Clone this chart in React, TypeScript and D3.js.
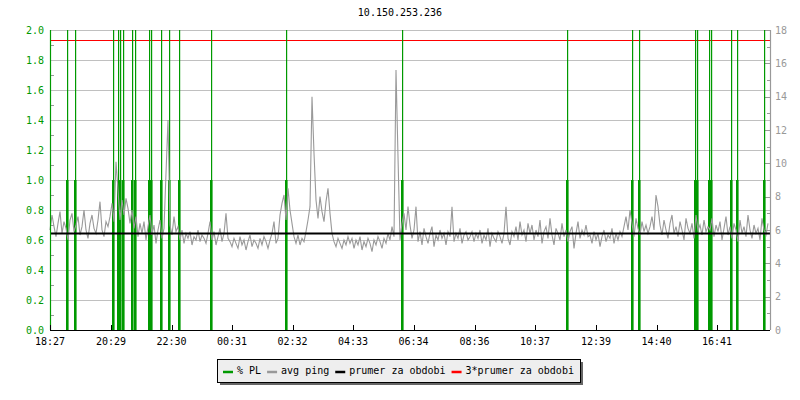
import React from "react";
import * as d3 from "d3";

const title = "10.150.253.236";
const tickLabels = ["18:27", "20:29", "22:30", "00:31", "02:32", "04:33", "06:34", "08:36", "10:37", "12:39", "14:40", "16:41"];
const startLabel = "18:27";
const spanMinutes = 1440;
const sampleStep = 4; // minutes between ping samples

const pingA = [6.0, 6.9, 6.2, 5.6, 6.4, 7.1, 5.8, 6.5, 6.1, 5.4, 6.6, 7.0, 5.9, 6.3, 6.8, 5.7, 6.2, 7.2, 6.0, 5.5, 6.4, 6.9, 6.1, 5.8, 6.6, 7.7, 6.0, 5.6, 6.5, 6.2];
const pingB = [6.8, 7.6, 6.5, 10.1, 8.4, 6.6, 7.8, 6.9, 7.9, 7.3, 6.4, 7.2, 6.1, 6.8, 5.6, 6.4, 5.8, 6.5, 5.4, 6.2, 6.9, 5.7, 6.3, 5.2, 6.0, 6.6, 5.5, 6.1, 9.4, 12.6];
const pingC = [6.3, 5.7, 6.8, 5.9, 6.2, 5.4, 6.0, 5.2, 5.8, 5.5, 5.9, 5.1, 5.6, 5.4, 6.0, 5.3, 5.7, 5.5, 5.2, 5.8, 6.5, 5.4, 5.9, 5.1, 5.6, 6.1, 5.3, 5.8, 7.0, 5.5];
const pingD = [5.3, 5.0, 5.5, 5.2, 4.9, 5.6, 5.1, 5.4, 4.8, 5.3, 5.7, 5.0, 5.4, 5.2, 4.9, 5.5, 5.1, 5.6, 5.3, 4.9, 5.4, 5.8, 6.5, 5.2, 5.5, 6.9, 7.6, 8.1, 6.6, 8.5];
const pingE = [7.2, 6.4, 5.6, 5.2, 5.7, 5.1, 5.5, 5.3, 5.9, 6.6, 7.4, 14.0, 10.6, 7.8, 6.7, 8.0, 7.1, 6.5, 7.7, 8.5, 7.0, 5.8, 5.3, 5.0, 5.5, 5.2, 4.9, 5.4, 5.1, 5.6];
const pingF = [5.2, 5.5, 4.9, 5.4, 5.1, 5.6, 4.8, 5.3, 5.0, 5.5, 5.2, 4.7, 5.4, 5.1, 5.6, 5.3, 4.9, 5.5, 5.2, 5.8, 5.4, 6.2, 5.6, 15.6, 10.4, 5.4, 6.4, 7.0, 6.0, 7.4];
const pingG = [6.3, 5.5, 6.0, 7.4, 5.3, 5.9, 5.1, 6.1, 5.6, 5.2, 5.8, 6.2, 5.0, 5.7, 5.4, 6.0, 5.5, 5.8, 5.1, 5.9, 5.6, 7.4, 5.3, 5.8, 5.5, 6.1, 5.2, 5.7, 5.9, 5.4];
const pingH = [5.6, 5.9, 5.3, 5.8, 5.5, 6.0, 5.2, 5.7, 5.4, 6.1, 5.0, 5.8, 5.5, 5.3, 5.9, 5.6, 5.2, 5.8, 7.4, 5.5, 5.1, 5.9, 5.6, 6.2, 5.4, 6.5, 5.7, 6.0, 5.3, 6.4];
const pingI = [5.8, 6.3, 5.4, 6.0, 5.6, 6.6, 5.2, 5.9, 6.2, 5.5, 6.7, 5.7, 5.1, 6.1, 5.8, 5.4, 6.4, 5.6, 6.0, 5.3, 5.9, 6.2, 4.9, 5.8, 6.5, 5.5, 6.0, 5.7, 6.3, 5.6];
const pingJ = [5.7, 5.2, 5.9, 5.4, 5.8, 5.0, 5.6, 6.0, 5.3, 5.7, 5.5, 6.1, 5.2, 5.8, 5.4, 5.9, 5.6, 6.2, 6.8, 6.0, 7.2, 6.4, 5.6, 6.7, 6.1, 5.7, 6.5, 5.9, 6.3, 5.8];
const pingK = [6.2, 6.8, 6.0, 8.1, 7.4, 6.3, 5.7, 6.6, 6.0, 5.5, 6.4, 6.9, 5.8, 6.2, 5.6, 6.5, 6.0, 5.4, 6.7, 6.1, 5.8, 6.4, 5.5, 6.9, 6.0, 6.3, 5.7, 6.6, 5.9, 6.2];
const pingL = [6.0, 6.7, 5.6, 6.3, 5.9, 6.5, 5.4, 6.1, 6.8, 5.7, 6.2, 5.5, 6.4, 6.0, 5.3, 6.6, 5.8, 6.2, 5.6, 6.9, 6.0, 5.5, 6.3, 5.8, 6.1, 5.4, 6.7, 6.0, 5.7, 6.4];

const pingMean = 5.79;

// packet-loss events (minutes after start), low level and spike level (%)
const plMinutes = [33, 49, 125, 135, 139, 145, 163, 169, 197, 201, 221, 237, 258, 322, 472, 705, 1034, 1164, 1178, 1289, 1293, 1318, 1322, 1361, 1374, 1428];
const plLow = plMinutes.map(() => 1.0);
const plHigh = plMinutes.map(() => 100);

const legendItems = ["% PL", "avg ping", "prumer za obdobi", "3*prumer za obdobi"];
const legendColors = ["#009900", "#999999", "#000000", "#ff0000"];

const FONT = "'DejaVu Sans Mono', monospace";
const GREEN = "#009900";

function toMinutes(label: string) {
  const [h, m] = label.split(":").map(Number);
  const [sh, sm] = startLabel.split(":").map(Number);
  return ((h * 60 + m) - (sh * 60 + sm) + 1440) % 1440;
}

export default function App() {
  const W = 800, H = 400;
  const left = 50, right = 770, top = 30, bottom = 330;

  const x = d3.scaleLinear().domain([0, spanMinutes]).range([left, right]);
  const yL = d3.scaleLinear().domain([0, 2]).range([bottom, top]).clamp(true);
  const yR = d3.scaleLinear().domain([0, 18]).range([bottom, top]).clamp(true);

  const ping = [pingA, pingB, pingC, pingD, pingE, pingF, pingG, pingH, pingI, pingJ, pingK, pingL].flat();
  const line = d3
    .line<number>()
    .x((_, i) => x(i * sampleStep))
    .y((d) => yR(d));

  const majorL = d3.range(0, 2.001, 0.2);
  const minorL = d3.range(0.1, 2.0, 0.2);
  const majorR = d3.range(0, 18.001, 2);
  const minorR = d3.range(1, 18, 2);

  // legend layout (monospace, 6px per char)
  const charW = 6.02;
  let lx = 223;
  const legendLayout = legendItems.map((t, i) => {
    const item = { sx: lx, tx: lx + 14, text: t, color: legendColors[i] };
    lx = lx + 14 + t.length * charW + 6;
    return item;
  });
  const boxL = 217, boxR = 580, boxT = 359, boxB = 382;

  return (
    <svg width={W} height={H} style={{ position: "absolute", left: 0, top: 0, background: "#fff" }} fontFamily={FONT}>
      <rect x={0} y={0} width={W} height={H} fill="#fff" />
      <text x={400} y={16} textAnchor="middle" fontSize={10} fill="#000">{title}</text>

      {/* grid */}
      {majorL.map((v) => (
        <line key={"g" + v} x1={left} x2={right} y1={Math.round(yL(v)) + 0.5} y2={Math.round(yL(v)) + 0.5} stroke="#c0c0c0" strokeWidth={1} />
      ))}
      {minorL.map((v) => (
        <line key={"mt" + v} x1={left} x2={left + 4} y1={Math.round(yL(v)) + 0.5} y2={Math.round(yL(v)) + 0.5} stroke="#999" strokeWidth={1} />
      ))}
      {majorR.map((v) => (
        <line key={"rt" + v} x1={right - 6} x2={right} y1={Math.round(yR(v)) + 0.5} y2={Math.round(yR(v)) + 0.5} stroke="#999" strokeWidth={1} />
      ))}
      {minorR.map((v) => (
        <line key={"rm" + v} x1={right - 3} x2={right} y1={Math.round(yR(v)) + 0.5} y2={Math.round(yR(v)) + 0.5} stroke="#999" strokeWidth={1} />
      ))}

      {/* red 3*mean */}
      <line x1={left} x2={right} y1={yR(3 * pingMean)} y2={yR(3 * pingMean)} stroke="#ff0000" strokeWidth={1.2} />

      {/* PL bars */}
      {plMinutes.map((m, i) => (
        <g key={"pl" + i}>
          <rect x={Math.round(x(m)) - 1} y={yL(plLow[i])} width={2.5} height={bottom - yL(plLow[i])} fill={GREEN} />
          <rect x={Math.round(x(m))} y={yL(plHigh[i])} width={1.2} height={bottom - yL(plHigh[i])} fill={GREEN} />
        </g>
      ))}

      {/* ping */}
      <path d={line(ping) || ""} fill="none" stroke="#999999" strokeWidth={1.1} />

      {/* mean */}
      <line x1={left} x2={right} y1={yR(pingMean)} y2={yR(pingMean)} stroke="#000" strokeWidth={2.2} />

      {/* axes */}
      <line x1={left + 0.5} x2={left + 0.5} y1={top} y2={bottom} stroke={GREEN} strokeWidth={1.2} />
      <line x1={right + 0.5} x2={right + 0.5} y1={top} y2={bottom} stroke="#999" strokeWidth={1.2} />
      <line x1={left} x2={right} y1={bottom + 0.5} y2={bottom + 0.5} stroke="#000" strokeWidth={1.2} />

      {majorL.map((v) => (
        <text key={"ll" + v} x={44} y={yL(v) + 3.5} textAnchor="end" fontSize={10} fill={GREEN}>{v.toFixed(1)}</text>
      ))}
      {majorR.map((v) => (
        <text key={"rl" + v} x={775} y={yR(v) + 3.5} textAnchor="start" fontSize={10} fill="#999">{String(v)}</text>
      ))}

      {tickLabels.map((t) => {
        const px = x(toMinutes(t));
        return (
          <g key={"xt" + t}>
            <line x1={Math.round(px) + 0.5} x2={Math.round(px) + 0.5} y1={bottom} y2={bottom - 5} stroke="#000" strokeWidth={1} />
            <text x={px} y={345} textAnchor="middle" fontSize={10} fill="#000">{t}</text>
          </g>
        );
      })}

      {/* legend */}
      <rect x={boxL + 3} y={boxT + 3} width={boxR - boxL} height={boxB - boxT} fill="#666" />
      <rect x={boxL + 0.5} y={boxT + 0.5} width={boxR - boxL} height={boxB - boxT} fill="#eeeeee" stroke="#000" strokeWidth={1} />
      {legendLayout.map((it) => (
        <g key={"lg" + it.text}>
          <line x1={it.sx} x2={it.sx + 10} y1={372} y2={372} stroke={it.color} strokeWidth={2.5} />
          <text x={it.tx} y={374} fontSize={10} fill="#000">{it.text}</text>
        </g>
      ))}
    </svg>
  );
}
